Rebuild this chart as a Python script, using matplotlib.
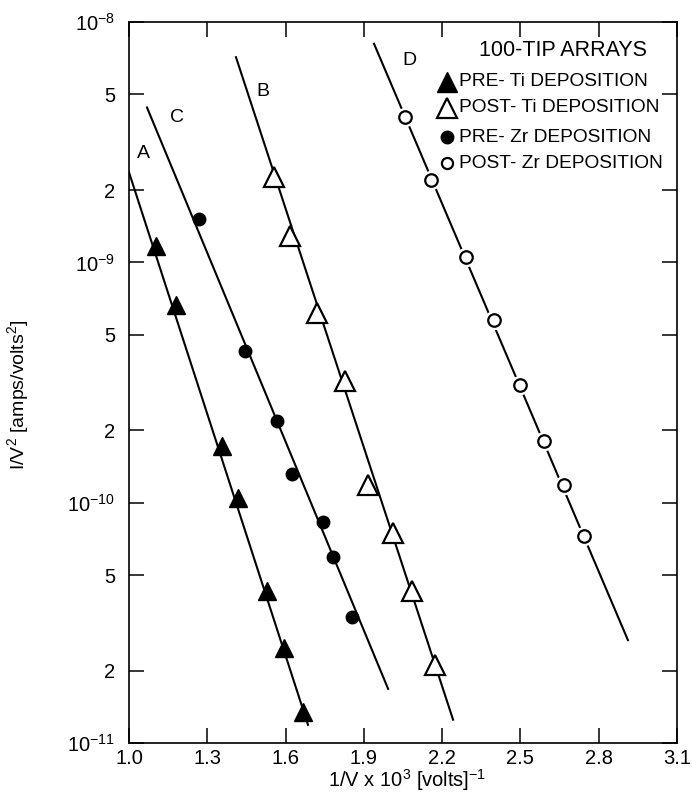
import numpy as np
import matplotlib
matplotlib.use('Agg')
import matplotlib.pyplot as plt
from matplotlib.ticker import FixedLocator, FixedFormatter, NullLocator

plt.rcParams['font.family'] = ['Liberation Sans', 'DejaVu Sans']
plt.rcParams['mathtext.fontset'] = 'custom'
plt.rcParams['mathtext.rm'] = 'Liberation Sans'
plt.rcParams['mathtext.it'] = 'Liberation Sans:italic'
plt.rcParams['mathtext.default'] = 'regular'

# measured points, x = 1/V x 10^3, y = I/V^2
pre_ti_x = [1.103, 1.180, 1.356, 1.418, 1.529, 1.594, 1.667]
pre_ti_y = [1.17e-9, 6.67e-10, 1.72e-10, 1.05e-10, 4.30e-11, 2.48e-11, 1.35e-11]

pre_zr_x = [1.268, 1.444, 1.567, 1.625, 1.743, 1.782, 1.855]
pre_zr_y = [1.51e-9, 4.28e-10, 2.18e-10, 1.32e-10, 8.30e-11, 5.96e-11, 3.33e-11]

post_ti_x = [1.556, 1.617, 1.720, 1.828, 1.916, 2.012, 2.084, 2.173]
post_ti_y = [2.26e-9, 1.29e-9, 6.18e-10, 3.21e-10, 1.19e-10, 7.48e-11, 4.30e-11, 2.12e-11]

post_zr_x = [2.058, 2.157, 2.291, 2.399, 2.498, 2.590, 2.667, 2.744]
post_zr_y = [4.01e-9, 2.20e-9, 1.05e-9, 5.78e-10, 3.09e-10, 1.81e-10, 1.18e-10, 7.26e-11]

# fitted straight lines (end points)
line_a_x = [1.0, 1.686]
line_a_y = [2.37e-9, 1.19e-11]
line_c_x = [1.069, 1.993]
line_c_y = [4.41e-9, 1.68e-11]
line_b_x = [1.410, 2.242]
line_b_y = [7.14e-9, 1.25e-11]
line_d_x = [1.939, 2.912]
line_d_y = [8.12e-9, 2.68e-11]

x_ticks = [1.0, 1.3, 1.6, 1.9, 2.2, 2.5, 2.8, 3.1]
y_ticks = [1e-11, 2e-11, 5e-11, 1e-10, 2e-10, 5e-10, 1e-9, 2e-9, 5e-9, 1e-8]
y_labels = ['$10^{-11}$', '2', '5', '$10^{-10}$', '2', '5', '$10^{-9}$', '2', '5', '$10^{-8}$']

fig = plt.figure(figsize=(6.92, 8.01), dpi=100)
ax = fig.add_axes([0.1864, 0.0724, 0.7919, 0.9001])

lw = 1.5
ax.plot(line_a_x, line_a_y, color='black', lw=lw, zorder=1)
ax.plot(line_c_x, line_c_y, color='black', lw=lw, zorder=1)
ax.plot(line_b_x, line_b_y, color='black', lw=lw, zorder=1)
ax.plot(line_d_x, line_d_y, color='black', lw=lw, zorder=1)

ax.plot(pre_ti_x, pre_ti_y, ls='none', marker='^', ms=13, color='black', zorder=3)
ax.plot(post_ti_x, post_ti_y, ls='none', marker='^', ms=14, mfc='white', mec='black', mew=1.6, zorder=3)
ax.plot(pre_zr_x, pre_zr_y, ls='none', marker='o', ms=9, color='black', zorder=3)
# white halo under the open circles gives the small gaps in line D
ax.plot(post_zr_x, post_zr_y, ls='none', marker='o', ms=13, color='white', zorder=2)
ax.plot(post_zr_x, post_zr_y, ls='none', marker='o', ms=9, mfc='white', mec='black', mew=1.6, zorder=3)

ax.set_yscale('log')
ax.set_xlim(1.0, 3.1)
ax.set_ylim(1e-11, 1e-8)
ax.xaxis.set_major_locator(FixedLocator(x_ticks))
ax.xaxis.set_major_formatter(FixedFormatter([f'{v:.1f}' for v in x_ticks]))
ax.yaxis.set_major_locator(FixedLocator(y_ticks))
ax.yaxis.set_major_formatter(FixedFormatter(y_labels))
ax.yaxis.set_minor_locator(NullLocator())
ax.tick_params(direction='in', length=11, width=1.1, top=True, right=True, labelsize=14.5)
ax.tick_params(axis='x', pad=4)
ax.tick_params(axis='y', pad=10)
for s in ax.spines.values():
    s.set_linewidth(1.2)

# curve letters
ax.text(0.0255, 0.817, 'A', transform=ax.transAxes, fontsize=14, ha='center', va='center')
ax.text(0.0876, 0.868, 'C', transform=ax.transAxes, fontsize=14, ha='center', va='center')
ax.text(0.2445, 0.903, 'B', transform=ax.transAxes, fontsize=14, ha='center', va='center')
ax.text(0.511, 0.947, 'D', transform=ax.transAxes, fontsize=14, ha='center', va='center')

# legend drawn by hand
ax.text(0.639, 0.961, '100-TIP ARRAYS', transform=ax.transAxes, fontsize=15.5, ha='left', va='center')
leg_y = [0.917, 0.881, 0.840, 0.804]
leg_txt = ['PRE- Ti DEPOSITION', 'POST- Ti DEPOSITION', 'PRE- Zr DEPOSITION', 'POST- Zr DEPOSITION']
leg_style = [dict(marker='^', ms=14, color='black'),
             dict(marker='^', ms=15, mfc='white', mec='black', mew=1.6),
             dict(marker='o', ms=9, color='black'),
             dict(marker='o', ms=8, mfc='white', mec='black', mew=1.6)]
for yy, txt, st in zip(leg_y, leg_txt, leg_style):
    ax.plot([0.581], [yy], transform=ax.transAxes, ls='none', **st)
    ax.text(0.603, yy, txt, transform=ax.transAxes, fontsize=13.8, ha='left', va='center')

fig.text(0.026, 0.507, 'I/V$^2$ [amps/volts$^2$]', rotation=90, fontsize=14, ha='center', va='center')
fig.text(0.588, 0.026, '1/V x 10$^3$ [volts]$^{-1}$', fontsize=14.5, ha='center', va='center')

fig.savefig('out.png', dpi=100)
